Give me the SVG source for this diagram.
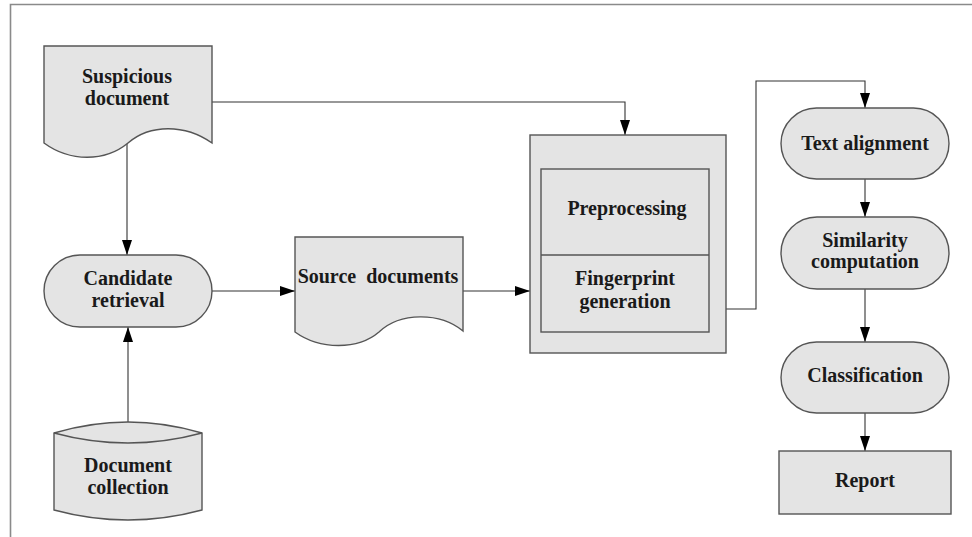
<svg xmlns="http://www.w3.org/2000/svg" width="972" height="537" viewBox="0 0 972 537">
  <style>
    .shape { fill: #e4e4e4; stroke: #555; stroke-width: 1.4; }
    .inner { fill: none; stroke: #555; stroke-width: 1.4; }
    .frame { fill: none; stroke: #8a8a8a; stroke-width: 1.6; }
    .conn { fill: none; stroke: #333; stroke-width: 1.1; }
    .lbl { font-family: "Liberation Serif", "Times New Roman", serif; font-weight: bold; font-size: 20px; fill: #1a1a1a; text-anchor: middle; }
  </style>
  <defs>
    <marker id="arrow" viewBox="0 0 15 10" refX="15" refY="5" markerWidth="15" markerHeight="10" markerUnits="userSpaceOnUse" orient="auto">
      <path d="M0,0 L15,5 L0,10 Z" fill="#000"/>
    </marker>
  </defs>

  <rect width="972" height="537" fill="#fff"/>
  <!-- outer frame (top and left edges) -->
  <path class="frame" d="M10.5,537 V4.5 H972"/>

  <!-- connectors -->
  <g id="connectors">
    <path class="conn" d="M127,143 V255" marker-end="url(#arrow)"/>
    <path class="conn" d="M128,434 V327" marker-end="url(#arrow)"/>
    <path class="conn" d="M212,291 H295" marker-end="url(#arrow)"/>
    <path class="conn" d="M463,291 H530" marker-end="url(#arrow)"/>
    <path class="conn" d="M212,102 H625 V135" marker-end="url(#arrow)"/>
    <path class="conn" d="M726,309 H756 V81 H865 V108" marker-end="url(#arrow)"/>
    <path class="conn" d="M865,179 V217" marker-end="url(#arrow)"/>
    <path class="conn" d="M865,289 V342" marker-end="url(#arrow)"/>
    <path class="conn" d="M865,413 V451" marker-end="url(#arrow)"/>
  </g>

  <g id="suspicious-document">
    <path class="shape" d="M44,46 H212 V143 C185,124 150,124 128,143 C105,162 70,162 44,143 Z"/>
    <text class="lbl" x="127" y="83">Suspicious</text>
    <text class="lbl" x="127" y="105">document</text>
  </g>

  <g id="candidate-retrieval">
    <rect class="shape" x="44" y="255" width="168" height="72" rx="36" ry="36"/>
    <text class="lbl" x="128" y="285">Candidate</text>
    <text class="lbl" x="128" y="307">retrieval</text>
  </g>

  <g id="document-collection">
    <path class="shape" d="M54,433 Q128,411 202,433 V510 Q128,530 54,510 Z"/>
    <path class="inner" d="M54,433 Q128,453 202,433"/>
    <text class="lbl" x="128" y="472">Document</text>
    <text class="lbl" x="128" y="494">collection</text>
  </g>

  <g id="source-documents">
    <path class="shape" d="M295,237 H463 V331 C440,312 400,312 379,332 C358,350 320,350 295,332 Z"/>
    <text class="lbl" x="378" y="283" xml:space="preserve">Source  documents</text>
  </g>

  <g id="fingerprinting">
    <rect class="shape" x="530" y="135" width="196" height="218"/>
    <rect class="inner" x="541" y="169" width="168" height="163"/>
    <line class="inner" x1="541" y1="255" x2="709" y2="255"/>
    <text class="lbl" x="627" y="215">Preprocessing</text>
    <text class="lbl" x="625" y="285">Fingerprint</text>
    <text class="lbl" x="625" y="308">generation</text>
  </g>

  <g id="text-alignment">
    <rect class="shape" x="781" y="108" width="168" height="71" rx="35.5" ry="35.5"/>
    <text class="lbl" x="865" y="150">Text alignment</text>
  </g>

  <g id="similarity-computation">
    <rect class="shape" x="781" y="217" width="168" height="72" rx="36" ry="36"/>
    <text class="lbl" x="865" y="247">Similarity</text>
    <text class="lbl" x="865" y="268">computation</text>
  </g>

  <g id="classification">
    <rect class="shape" x="781" y="342" width="168" height="71" rx="35.5" ry="35.5"/>
    <text class="lbl" x="865" y="382">Classification</text>
  </g>

  <g id="report">
    <rect class="shape" x="779" y="451" width="172" height="63"/>
    <text class="lbl" x="865" y="487">Report</text>
  </g>
</svg>
